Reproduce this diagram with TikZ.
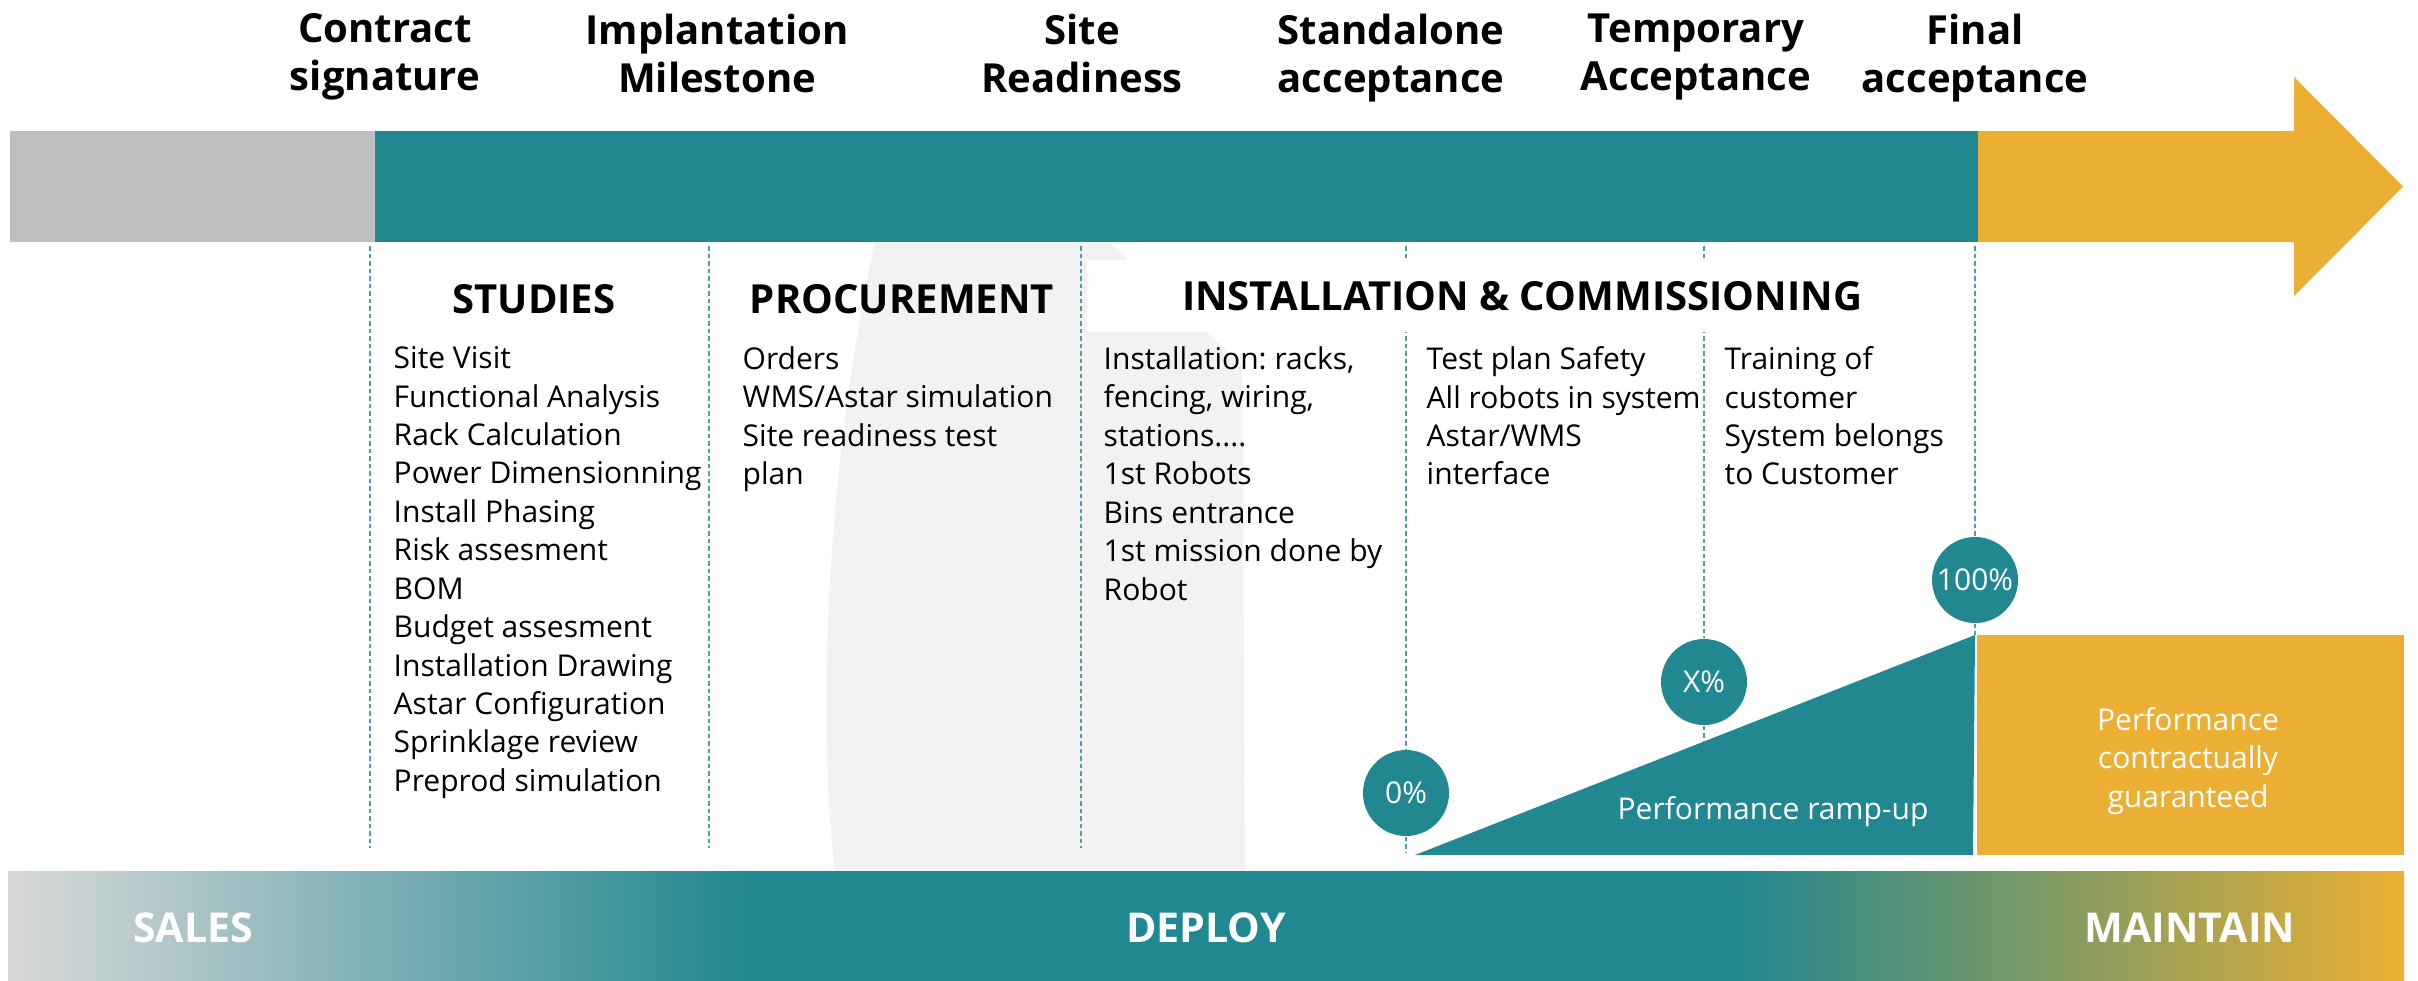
\documentclass[tikz,border=0pt]{standalone}
\usepackage{fontspec}
\setmainfont{Open Sans}
\frenchspacing

\definecolor{deployteal}{RGB}{33,135,144}
\definecolor{maintgold}{RGB}{235,176,51}
\definecolor{salesgray}{RGB}{191,191,191}
\definecolor{fadegray}{RGB}{217,217,217}
\definecolor{markgray}{RGB}{242,242,242}

\tikzset{
	milestone/.style={align=center, anchor=north, inner sep=0pt,
		font=\fontsize{11.4}{13.66}\selectfont\bfseries},
	phase/.style={inner sep=0pt, font=\fontsize{11.4}{13.66}\selectfont\bfseries},
	tasks/.style={align=left, anchor=north west, inner sep=0pt,
		font=\fontsize{8.54}{10.93}\selectfont},
	level/.style={circle, fill=deployteal, text=white, minimum size=8.6mm,
		inner sep=0pt, font=\fontsize{8.54}{10.93}\selectfont},
	guide/.style={draw=deployteal!80, line width=0.45pt, dash pattern=on 0.45mm off 0.3mm},
	stage/.style={inner sep=0pt, text=white, font=\fontsize{11.7}{14}\selectfont\bfseries}
}

\begin{document}
\begin{tikzpicture}[x=0.1mm, y=-0.1mm]
	\useasboundingbox (0,0) rectangle (2418,980);

	% light mark behind the middle columns
	\fill[markgray] (875,243) -- (1110,243) -- (1242,365) -- (1245,871) -- (835,871)
		.. controls (815,700) and (830,450) .. (875,243);

	% timeline bar
	\fill[salesgray] (10,131) rectangle (375,242);
	\fill[deployteal] (375,131) rectangle (1978,242);
	\fill[maintgold] (1978,131) -- (2294,131) -- (2294,77) -- (2403,186.5)
		-- (2294,296) -- (2294,242) -- (1978,242) -- cycle;

	% milestones
	\node[milestone] (cs) at (385,13) {Contract\\signature};
	\node[milestone] (im) at (717,13) {Implantation\\Milestone};
	\node[milestone] (sr) at (1082,13) {Site\\Readiness};
	\node[milestone] (sa) at (1391,13) {Standalone\\acceptance};
	\node[milestone] (ta) at (1696,13) {Temporary\\Acceptance};
	\node[milestone] (fa) at (1975,13) {Final\\acceptance};

	% performance levels
	\node[level] (p0) at (1406,793) {0\%};
	\node[level] (px) at (1704,682) {X\%};
	\node[level] (p100) at (1975,580) {100\%};
	\coordinate (rampx) at (1704,741);
	\coordinate (ramptop) at (1975,635);

	% guide lines
	\foreach \x in {370,709,1081}
		\draw[guide] (\x,246) -- (\x,848);
	\draw[guide] (1406,246) -- (p0);
	\draw[guide] (p0) -- (1406,852);
	\draw[guide] (1704,246) -- (px);
	\draw[guide] (px) -- (rampx);
	\draw[guide] (1975,246) -- (p100);
	\draw[guide] (p100) -- (ramptop);

	% phases
	\node[phase] (stud) at (534,299) {STUDIES};
	\node[phase] (proc) at (902,299) {PROCUREMENT};
	\node[phase, fill=white, minimum width=87mm, minimum height=7.2mm]
		(inst) at (1522,296) {INSTALLATION \& COMMISSIONING};

	\node[tasks] (studl) at (393,346) {Site Visit\\Functional Analysis\\Rack Calculation\\
		Power Dimensionning\\Install Phasing\\Risk assesment\\BOM\\Budget assesment\\
		Installation Drawing\\Astar Configuration\\Sprinklage review\\Preprod simulation};
	\node[tasks] (procl) at (742,346) {Orders\\WMS/Astar simulation\\Site readiness test\\plan};
	\node[tasks] (instl) at (1103,346) {Installation: racks,\\fencing, wiring,\\stations....\\
		1st Robots\\Bins entrance\\1st mission done by\\Robot};
	\node[tasks] (testl) at (1426,346) {Test plan Safety\\All robots in system\\Astar/WMS\\interface};
	\node[tasks] (trainl) at (1724,346) {Training of\\customer\\System belongs\\to Customer};

	% ramp-up and guarantee
	\fill[deployteal] (1415,855) -- (ramptop) -- (1973,855) -- cycle;
	\fill[maintgold] (1977,635) rectangle (2404,855);
	\node[tasks, anchor=center, text=white] (ramp) at (1773,812) {Performance ramp-up};
	\node[tasks, anchor=center, align=center, text=white] (guar) at (2188,761)
		{Performance\\contractually\\guaranteed};

	% bottom band
	\shade[left color=fadegray, right color=deployteal] (8,871) rectangle (749,990);
	\fill[deployteal] (747,871) rectangle (1735,990);
	\shade[left color=deployteal, right color=maintgold] (1734,871) rectangle (2404,990);
	\node[stage] (sales) at (193,928) {SALES};
	\node[stage] (deploy) at (1206,928) {DEPLOY};
	\node[stage] (maintain) at (2190,928) {MAINTAIN};
\end{tikzpicture}
\end{document}
